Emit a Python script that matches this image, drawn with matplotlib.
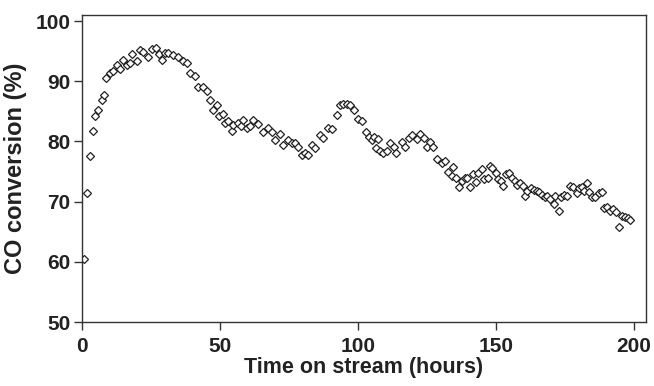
import matplotlib
matplotlib.use("Agg")
import matplotlib.pyplot as plt

# Time on stream (hours) and CO conversion (%)
hours = [0.7, 1.9, 2.9, 4.1, 4.8, 5.9, 7.1, 8.1, 8.7, 10.1, 11.3, 12.6, 13.8, 15.0,
         16.2, 17.4, 18.0, 19.8, 21.0, 22.2, 24.0, 25.3, 26.8, 28.0, 28.9, 30.1, 31.3,
         33.1, 34.9, 36.7, 38.0, 39.1, 41.0, 41.9, 43.9, 45.2, 46.4, 47.6, 48.8, 49.7,
         51.2, 51.8, 53.0, 54.2, 54.8, 56.6, 57.5, 58.4, 59.7, 60.9, 62.1, 63.9, 65.7,
         67.5, 68.7, 69.9, 71.7, 72.9, 74.7, 76.0, 77.2, 78.4, 79.6, 80.8, 82.0, 83.2,
         84.4, 86.2, 87.4, 89.2, 90.5, 92.5, 93.5, 94.7, 95.9, 97.1, 98.6, 100.1, 101.6,
         102.9, 104.1, 105.0, 105.8, 106.5, 107.3, 108.0, 109.2, 110.6, 111.6, 113.0,
         113.8, 115.8, 117.0, 118.6, 119.5, 121.3, 122.5, 123.7, 124.9, 126.1, 127.3,
         128.7, 130.3, 131.5, 132.7, 133.9, 134.5, 135.5, 136.7, 137.6, 138.8, 139.6,
         140.6, 141.8, 142.8, 143.6, 144.8, 145.7, 146.9, 147.8, 148.4, 149.9, 150.8,
         151.7, 152.6, 153.6, 154.8, 155.7, 156.9, 157.7, 158.7, 159.7, 160.5, 161.3,
         162.6, 163.8, 164.7, 165.7, 166.6, 167.8, 168.6, 169.6, 170.8, 171.4, 172.6,
         173.4, 174.6, 175.6, 176.6, 177.8, 179.2, 180.2, 181.0, 181.9, 182.9, 183.8,
         184.7, 185.9, 187.1, 188.3, 189.1, 190.3, 191.3, 192.3, 193.5, 194.5, 195.5,
         196.7, 197.6, 198.6]

conversion = [60.5, 71.5, 77.5, 81.7, 84.2, 85.2, 86.9, 87.7, 90.5, 91.3, 91.7, 92.7, 92.1,
              93.6, 92.7, 93.1, 94.6, 93.4, 95.2, 94.9, 94.1, 95.3, 95.6, 94.5, 93.5, 94.7,
              94.7, 94.4, 94.1, 93.4, 93.0, 91.4, 90.9, 89.0, 89.0, 88.3, 86.9, 85.2, 86.0,
              84.2, 84.5, 83.0, 83.4, 81.8, 82.7, 83.0, 82.6, 83.6, 82.3, 82.6, 83.6, 82.9,
              81.6, 82.2, 81.6, 80.2, 81.2, 79.4, 80.2, 79.7, 79.8, 79.0, 77.7, 78.0, 77.7,
              79.4, 78.9, 81.1, 80.5, 82.2, 82.0, 84.4, 86.0, 86.2, 86.2, 86.0, 85.2, 83.7,
              83.4, 81.6, 80.8, 80.2, 80.8, 78.9, 80.4, 78.4, 78.0, 78.4, 79.7, 79.1, 78.0,
              79.9, 79.0, 80.5, 81.1, 80.4, 81.2, 80.5, 79.1, 79.9, 79.0, 77.0, 76.4, 76.8,
              75.0, 74.3, 75.8, 74.0, 72.5, 73.5, 73.9, 74.0, 72.4, 74.6, 73.3, 74.8, 75.4,
              73.7, 74.0, 75.9, 75.6, 74.8, 73.7, 73.5, 72.6, 74.6, 74.8, 74.0, 73.5, 72.8,
              73.1, 72.6, 70.9, 71.8, 72.2, 72.0, 71.8, 71.6, 71.1, 70.7, 70.9, 70.4, 69.6,
              70.9, 68.5, 70.8, 71.1, 70.9, 72.6, 72.4, 71.4, 72.2, 72.4, 71.8, 73.1, 71.6,
              70.8, 70.7, 71.4, 71.6, 68.9, 69.1, 68.5, 68.7, 68.2, 65.8, 67.6, 67.4, 67.2,
              66.9]

x_ticks = [0, 50, 100, 150, 200]
y_ticks = [50, 60, 70, 80, 90, 100]

plt.rcParams['font.family'] = ['Liberation Sans', 'DejaVu Sans']
plt.rcParams['font.weight'] = 'bold'

fig = plt.figure(figsize=(6.54, 3.86), dpi=100)
ax = fig.add_axes([0.1254, 0.1658, 0.8624, 0.7953])

ax.plot(hours, conversion, linestyle='none', marker='D', markersize=4.5,
        markerfacecolor='white', markeredgecolor='#222222', markeredgewidth=0.9)

ax.set_xlim(0, 204.3)
ax.set_ylim(50, 101)
ax.set_xticks(x_ticks)
ax.set_yticks(y_ticks)
ax.tick_params(direction='out', length=5.5, width=1, labelsize=15, color='#333333',
               labelcolor='#222222')
ax.tick_params(axis='y', pad=3)
ax.tick_params(axis='x', pad=5)
for lab in ax.get_xticklabels() + ax.get_yticklabels():
    lab.set_fontweight('bold')
for sp in ax.spines.values():
    sp.set_linewidth(1.0)
    sp.set_color('#333333')

ax.set_xlabel('Time on stream (hours)', fontsize=15.5, fontweight='bold',
              color='#222222', labelpad=1)
ax.set_ylabel('CO conversion (%)', fontsize=17, fontweight='bold',
              color='#222222', labelpad=6)

fig.savefig('out.png', dpi=100)
